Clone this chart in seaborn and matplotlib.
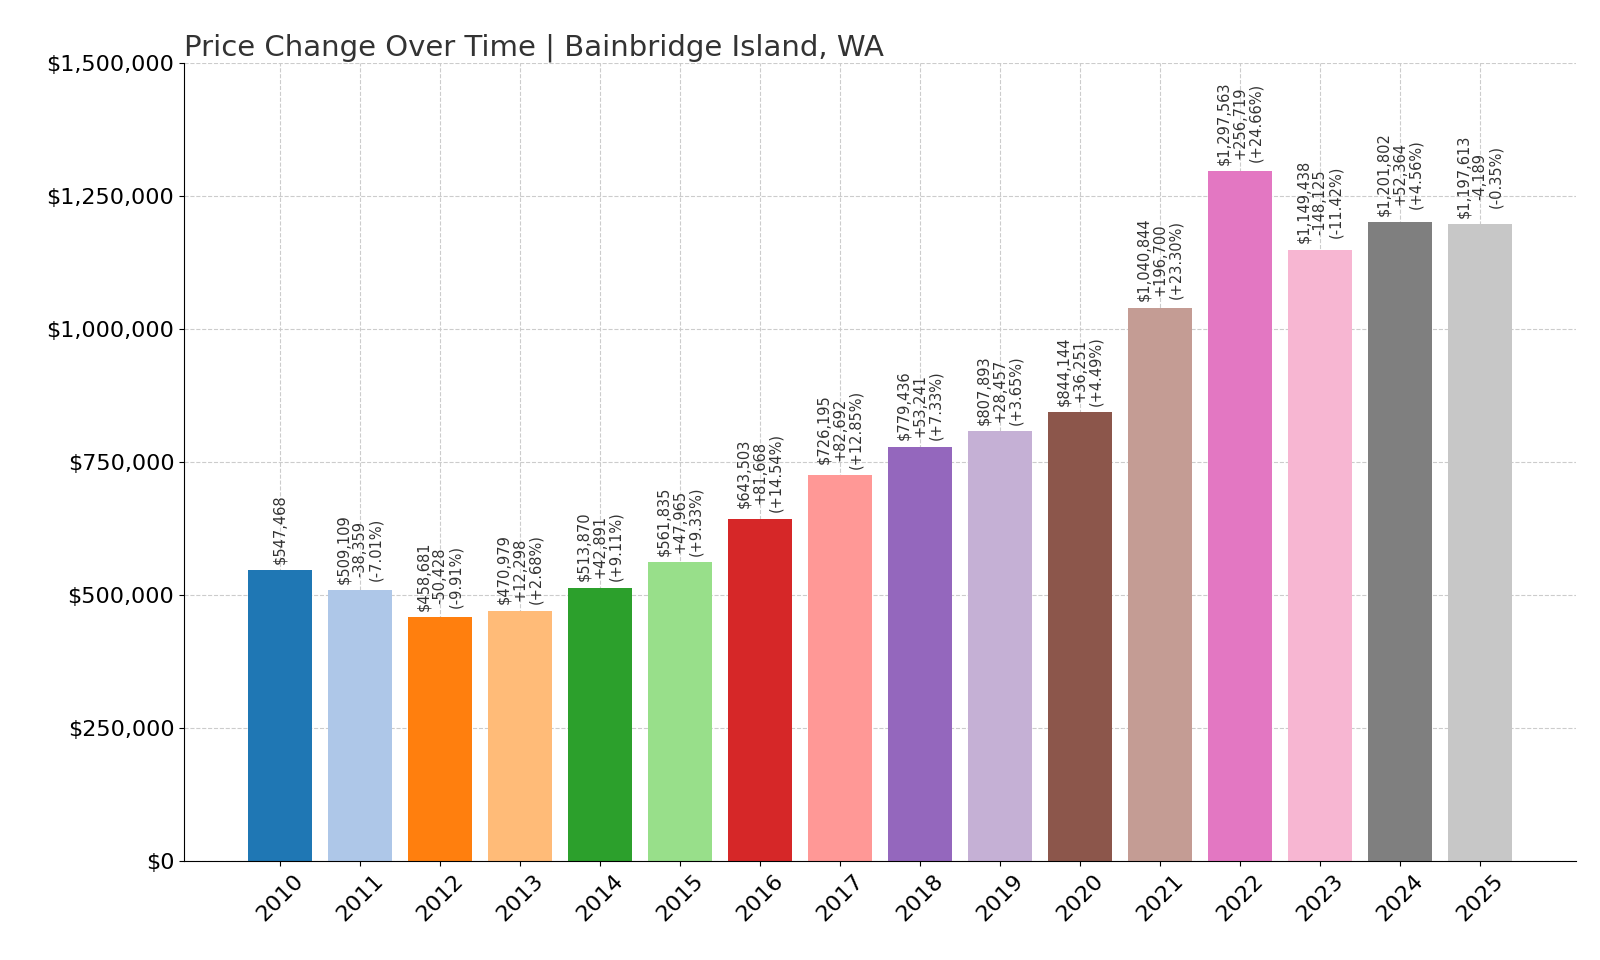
import matplotlib
matplotlib.use("Agg")
import matplotlib.pyplot as plt
import seaborn as sns
import pandas as pd
from matplotlib.ticker import FuncFormatter

years = ["2010","2011","2012","2013","2014","2015","2016","2017","2018","2019","2020","2021","2022","2023","2024","2025"]
prices = [547468,509109,458681,470979,513870,561835,643503,726195,779436,807893,844144,1040844,1297563,1149438,1201802,1197613]

df = pd.DataFrame({"year": years, "price": prices})
palette = sns.color_palette("tab20", 16)

fig, ax = plt.subplots(figsize=(16, 9.6), dpi=100)
fig.subplots_adjust(left=0.115, right=0.985, top=0.934, bottom=0.103)
sns.barplot(data=df, x="year", y="price", hue="year", palette=palette, legend=False, ax=ax, width=0.8, saturation=1)

for i, p in enumerate(prices):
    if i == 0:
        txt = f"${p:,}"
    else:
        d = p - prices[i-1]
        pct = d / prices[i-1] * 100
        txt = f"${p:,}\n{d:+,}\n({pct:+.2f}%)"
    ax.text(i, p + 12000, txt, rotation=90, ha="center", va="bottom", fontsize=10.5, color="#333333", linespacing=1.1)

ax.set_ylim(0, 1500000)
ax.set_xlim(-1.2, 16.2)
ax.set_yticks(range(0, 1500001, 250000))
ax.yaxis.set_major_formatter(FuncFormatter(lambda v, _: f"${v:,.0f}"))
ax.grid(True, linestyle="--", color="#cccccc", linewidth=0.8)
ax.set_axisbelow(True)
ax.spines["top"].set_visible(False)
ax.spines["right"].set_visible(False)
ax.set_xlabel("")
ax.set_ylabel("")
ax.tick_params(axis="x", labelsize=16, rotation=45)
ax.tick_params(axis="y", labelsize=16)
ax.set_title("Price Change Over Time | Bainbridge Island, WA", loc="left", fontsize=21, color="#333333")
fig.savefig("out.png", dpi=100)
